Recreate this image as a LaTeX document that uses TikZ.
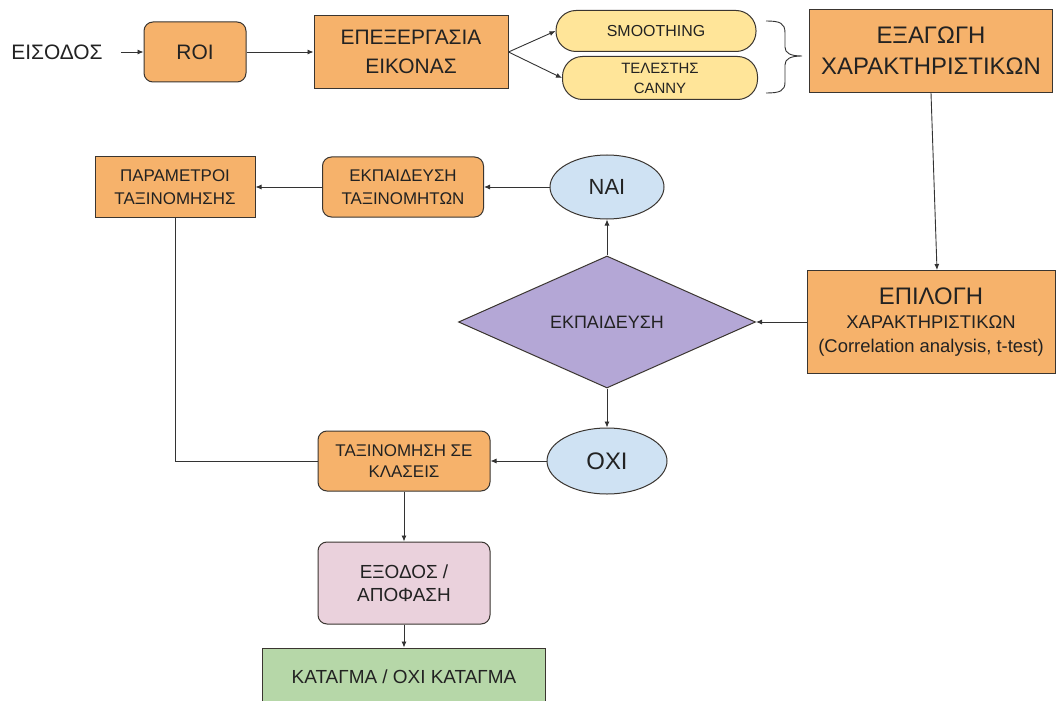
\documentclass[tikz,border=0pt]{standalone}
\usepackage{fontspec}
\setmainfont{Liberation Sans}
\usetikzlibrary{arrows.meta}
\usetikzlibrary{shapes.geometric}
\definecolor{orng}{HTML}{F6B26B}
\definecolor{ylw}{HTML}{FFE599}
\definecolor{lblue}{HTML}{CFE2F3}
\definecolor{lilac}{HTML}{B4A7D6}
\definecolor{pnk}{HTML}{EAD1DC}
\definecolor{grn}{HTML}{B6D7A8}
\definecolor{edge}{HTML}{3A3530}
\definecolor{wire}{HTML}{333333}
\definecolor{ink}{HTML}{222222}
\newcommand{\txtsize}[2]{\fontsize{#1}{#2}\selectfont}
\tikzset{blk/.style = {draw = edge, line width = 1bp, fill = orng, align = center, inner sep = 0, text = ink}}
\tikzset{rblk/.style = {blk, rounded corners = 9bp}}
\tikzset{pill/.style = {blk, fill = ylw, rounded corners = 20bp}}
\tikzset{oval/.style = {blk, fill = lblue, ellipse}}
\tikzset{dec/.style = {blk, fill = lilac, diamond}}
\tikzset{arr/.style = {draw = wire, line width = 0.9bp, -{Latex[length = 6bp, width = 5bp]}}}
\tikzset{wre/.style = {draw = wire, line width = 0.9bp}}

\begin{document}
\begin{tikzpicture}[x = 1bp, y = -1bp]
        \useasboundingbox [fill = white] (0, 0) rectangle (1057, 701);

        \node [inner sep = 0, text = ink, font = \txtsize{21}{25}] (eisodos) at (57, 52) {ΕΙΣΟΔΟΣ};
        \node [rblk, minimum width = 102bp, minimum height = 60bp, font = \txtsize{21}{25}] (roi) at (195, 52) {ROI};
        \node [blk, minimum width = 194bp, minimum height = 73bp, font = \txtsize{21}{29}] (epex) at (411, 52) {ΕΠΕΞΕΡΓΑΣΙΑ\\ΕΙΚΟΝΑΣ};
        \node [pill, minimum width = 200bp, minimum height = 41bp, font = \txtsize{16}{19}] (smooth) at (656, 31) {SMOOTHING};
        \node [pill, minimum width = 195bp, minimum height = 43bp, font = \txtsize{15}{20}] (canny) at (660, 78) {ΤΕΛΕΣΤΗΣ\\CANNY};
        \node [blk, minimum width = 243bp, minimum height = 83bp, font = \txtsize{24}{31}] (exag) at (931, 51) {ΕΞΑΓΩΓΗ\\ΧΑΡΑΚΤΗΡΙΣΤΙΚΩΝ};
        \node [blk, minimum width = 248bp, minimum height = 103bp, font = \txtsize{18.5}{24}] (epil) at (931, 322)
              {\txtsize{24}{28}ΕΠΙΛΟΓΗ\\[1bp]ΧΑΡΑΚΤΗΡΙΣΤΙΚΩΝ\\(Correlation analysis, t-test)};
        \node [dec, minimum width = 297bp, minimum height = 132bp, font = \txtsize{18}{22}] (ekp) at (607, 322) {ΕΚΠΑΙΔΕΥΣΗ};
        \node [oval, minimum width = 114bp, minimum height = 64bp, font = \txtsize{22}{26}] (nai) at (607, 187) {ΝΑΙ};
        \node [oval, minimum width = 120bp, minimum height = 66bp, font = \txtsize{24}{28}] (oxi) at (607, 461) {ΟΧΙ};
        \node [rblk, minimum width = 161bp, minimum height = 60bp, font = \txtsize{17}{23}] (ekptax) at (403, 187) {ΕΚΠΑΙΔΕΥΣΗ\\ΤΑΞΙΝΟΜΗΤΩΝ};
        \node [blk, minimum width = 160bp, minimum height = 60bp, font = \txtsize{17}{23}] (param) at (175, 187) {ΠΑΡΑΜΕΤΡΟΙ\\ΤΑΞΙΝΟΜΗΣΗΣ};
        \node [rblk, minimum width = 172bp, minimum height = 60bp, font = \txtsize{17}{21}] (taxin) at (404, 461) {ΤΑΞΙΝΟΜΗΣΗ ΣΕ\\ΚΛΑΣΕΙΣ};
        \node [rblk, fill = pnk, minimum width = 172bp, minimum height = 82bp, font = \txtsize{19}{23}] (exodos) at (404, 583) {ΕΞΟΔΟΣ /\\ΑΠΟΦΑΣΗ};
        \node [blk, fill = grn, minimum width = 283bp, minimum height = 58bp, font = \txtsize{19}{23}] (katagma) at (404, 677) {ΚΑΤΑΓΜΑ / ΟΧΙ ΚΑΤΑΓΜΑ};

        \draw [arr] ([xshift = 18bp]eisodos.east) -- (roi);
        \draw [arr] (roi) -- (epex);
        \draw [arr] (epex.east) -- (smooth.west);
        \draw [arr] (epex.east) -- (canny.west);
        \draw [wre] (766, 21) .. controls (780, 21) and (785, 23) .. (785, 33) -- (785, 47)
              .. controls (785, 53) and (790, 56) .. (802, 56) .. controls (790, 56) and (785, 59) .. (785, 65)
              -- (785, 82) .. controls (785, 91) and (780, 93) .. (766, 93);
        \draw [arr] (exag.south) -- ([xshift = 6bp]epil.north);
        \draw [arr] (epil) -- (ekp);
        \draw [arr] (ekp) -- (nai);
        \draw [arr] (ekp) -- (oxi);
        \draw [arr] (nai) -- (ekptax);
        \draw [arr] (ekptax) -- (param);
        \draw [wre] (param) |- (taxin);
        \draw [arr] (oxi) -- (taxin);
        \draw [arr] (taxin) -- (exodos);
        \draw [arr] (exodos) -- (katagma);
      \end{tikzpicture}
\end{document}
